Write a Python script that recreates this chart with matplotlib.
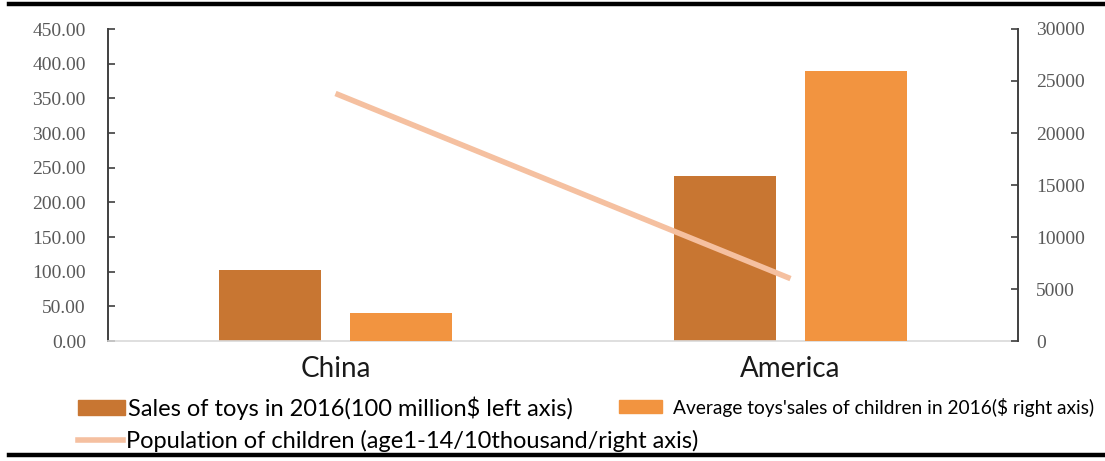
import matplotlib
matplotlib.use('Agg')
import matplotlib.pyplot as plt
from matplotlib.lines import Line2D
from matplotlib.patches import Patch
import numpy as np

# data
countries = ['China', 'America']
toy_sales = [103, 238]           # 100 million $, left axis
avg_sales = [2700, 26000]        # $, right axis
children_pop = [23800, 6000]     # 10 thousand, right axis

left_ticks = np.arange(0, 451, 50)
right_ticks = np.arange(0, 30001, 5000)

dark = '#C87632'
orange = '#F29440'
peach = '#F5C0A0'
tick_grey = '#595959'

fig = plt.figure(figsize=(11.05, 4.61), dpi=100)
ax = fig.add_axes([108 / 1105, 1 - 341 / 461, 910 / 1105, 312 / 461])
ax2 = ax.twinx()

x = np.arange(len(countries))
w = 0.224
off = 0.143

ax.bar(x - off, toy_sales, w, color=dark, zorder=2)
ax2.bar(x + off, avg_sales, w, color=orange, zorder=2)
ax2.plot(x, children_pop, color=peach, lw=4.0, solid_capstyle='butt', zorder=3)

ax.set_xlim(-0.5, 1.5)
ax.set_ylim(0, 450)
ax2.set_ylim(0, 30000)

ax.set_yticks(left_ticks)
ax.set_yticklabels(['%.2f' % v for v in left_ticks])
ax2.set_yticks(right_ticks)
ax2.set_yticklabels([str(v) for v in right_ticks])

ax.set_xticks(x)
ax.set_xticklabels(countries, fontfamily='Lato', fontsize=20, color='#1a1a1a')
ax.tick_params(axis='x', length=0, pad=11)

for a in (ax, ax2):
    for lab in a.get_yticklabels():
        lab.set_fontfamily('Liberation Serif')
        lab.set_fontsize(14)
        lab.set_color(tick_grey)
    a.spines['top'].set_visible(False)

ax.tick_params(axis='y', direction='in', length=5, width=1.2, color='#404040', pad=16)
ax2.tick_params(axis='y', direction='in', length=5, width=1.2, color='#404040', pad=13)
ax.spines['right'].set_visible(False)
ax.spines['left'].set_color('#404040')
ax.spines['left'].set_linewidth(1.4)
ax.spines['bottom'].set_color('#D9D9D9')
ax.spines['bottom'].set_linewidth(1.2)
ax2.spines['left'].set_visible(False)
ax2.spines['bottom'].set_visible(False)
ax2.spines['right'].set_color('#404040')
ax2.spines['right'].set_linewidth(1.4)

# legends, placed like the reference
common = dict(frameon=False, borderpad=0, borderaxespad=0, loc='center left')
fig.legend([Patch(color=dark)], ['Sales of toys in 2016(100 million$ left axis)'],
           bbox_to_anchor=(78 / 1105, 1 - 408 / 461), handlelength=2.0, handleheight=0.55,
           handletextpad=0.13, prop={'family': 'Lato', 'size': 17}, **common)
fig.legend([Patch(color=orange)], ["Average toys'sales of children in 2016($ right axis)"],
           bbox_to_anchor=(619 / 1105, 1 - 407 / 461), handlelength=2.24, handleheight=0.68,
           handletextpad=0.57, prop={'family': 'Lato', 'size': 13.8}, **common)
fig.legend([Line2D([], [], color=peach, lw=4.0)], ['Population of children (age1-14/10thousand/right axis)'],
           bbox_to_anchor=(78 / 1105, 1 - 441 / 461), handlelength=1.9,
           handletextpad=0.15, prop={'family': 'Lato', 'size': 17}, **common)

# thick black rules at top and bottom
fig.add_artist(Line2D([0.008, 1], [1 - 4.5 / 461] * 2, color='black', lw=3.2))
fig.add_artist(Line2D([0.008, 1], [1 - 455 / 461] * 2, color='black', lw=3.2))

plt.savefig('out.png', dpi=100)
